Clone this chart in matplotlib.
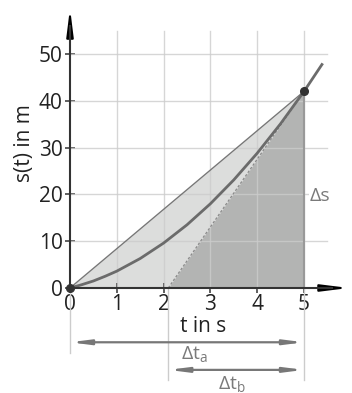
import matplotlib
matplotlib.use("Agg")
import matplotlib.pyplot as plt

plt.rcParams["font.family"] = ["Open Sans", "DejaVu Sans"]

# s(t) curve
t_curve = [0, 0.25, 0.5, 0.75, 1, 1.5, 2, 2.5, 3, 3.5, 4, 4.5, 5, 5.4]
s_curve = [0, 0.7, 1.5, 2.5, 3.6, 6.3, 9.6, 13.5, 18, 23.1, 28.8, 35.1, 42, 48.0]

# secant (from origin) and tangent at t = 5
secant_t = [0, 5]
secant_s = [0, 42]
tangent_t = [2.1, 5]
tangent_s = [0, 42]

x_ticks = [0, 1, 2, 3, 4, 5]
y_ticks = [0, 10, 20, 30, 40, 50]

DARK = "#333333"
CURVE = "#6b6b6b"
GRID = "#cccccc"
LABEL = "#7a7a7a"

fig = plt.figure(figsize=(3.52, 3.93), dpi=100)
ax = fig.add_axes([0, 0, 1, 1])
ax.set_xlim(-1.496, 6.026)
ax.set_ylim(-22.44, 61.54)
ax.set_facecolor("none")

# fills
ax.fill_between(secant_t, 0, secant_s, color="#dcdddc", lw=0, zorder=1)
ax.fill_between(tangent_t, 0, tangent_s, color="#b3b4b3", lw=0, zorder=2)

# grid
for xv in x_ticks[1:]:
    ax.plot([xv, xv], [0, 55], color=GRID, lw=1, zorder=3, alpha=0.8)
for yv in y_ticks[1:]:
    ax.plot([0, 5.5], [yv, yv], color=GRID, lw=1, zorder=3, alpha=0.8)

# extension lines for the dimension arrows
ax.plot([0, 0], [0, -13.8], color=GRID, lw=1, zorder=3)
ax.plot([tangent_t[0]] * 2, [0, -19.7], color=GRID, lw=1, zorder=3)
ax.plot([5, 5], [0, -19.7], color=GRID, lw=1, zorder=3)

# right edge of the triangle
ax.plot([5, 5], [0, 42], color="#999999", lw=1.5, zorder=4)

# secant and tangent
ax.plot(secant_t, secant_s, color="#777777", lw=1, zorder=5)
ax.plot(tangent_t, tangent_s, color="#8a8a8a", lw=0.9, ls=(0, (2, 1.5)), zorder=5)

# curve
ax.plot(t_curve, s_curve, color=CURVE, lw=2, zorder=6, solid_capstyle="butt")
ax.plot([0, 5], [0, 42], ls="none", marker="o", ms=5.5, color=DARK, zorder=9)

# axes as spines
for side in ["top", "right"]:
    ax.spines[side].set_visible(False)
ax.spines["left"].set_position(("data", 0))
ax.spines["bottom"].set_position(("data", 0))
ax.spines["left"].set_bounds(0, 56)
ax.spines["bottom"].set_bounds(0, 5.6)
for side in ["left", "bottom"]:
    ax.spines[side].set_color(DARK)
    ax.spines[side].set_linewidth(1.5)
    ax.spines[side].set_zorder(8)

ax.set_xticks(x_ticks)
ax.set_yticks(y_ticks)
ax.tick_params(direction="inout", length=7.5, width=1.1, color=DARK,
               labelsize=15, labelcolor="#222222")
ax.tick_params(axis="x", pad=0.5)
ax.tick_params(axis="y", pad=1.5)

# arrow heads on the axes
ax.annotate("", xy=(0, 59.8), xytext=(0, 54), zorder=8,
            arrowprops=dict(arrowstyle="-|>,head_length=1.6,head_width=0.2",
                            mutation_scale=10, color="black", lw=1.5,
                            shrinkA=0, shrinkB=0))
ax.annotate("", xy=(5.96, 0), xytext=(5.4, 0), zorder=8,
            arrowprops=dict(arrowstyle="-|>,head_length=1.6,head_width=0.2",
                            mutation_scale=10, color="black", lw=1.5,
                            shrinkA=0, shrinkB=0))

# axis labels
ax.text(-0.98, 31, "s(t) in m", rotation=90, ha="center", va="center",
        fontsize=15, color="#222222")
ax.text(2.84, -8.2, "t in s", ha="center", va="center", fontsize=15,
        color="#222222")

# delta s
ax.text(5.12, 19.6, "Δs", ha="left", va="center", fontsize=14, color=LABEL,
        zorder=7, bbox=dict(facecolor="white", edgecolor="none", pad=0.5))

# dimension arrows
dim_style = "<|-|>,head_length=1.1,head_width=0.14"
ax.annotate("", xy=(0, -11.6), xytext=(5, -11.6),
            arrowprops=dict(arrowstyle=dim_style, mutation_scale=10,
                            color="#777777", lw=1.6, shrinkA=0, shrinkB=0))
ax.annotate("", xy=(tangent_t[0], -17.5), xytext=(5, -17.5),
            arrowprops=dict(arrowstyle=dim_style, mutation_scale=10,
                            color="#777777", lw=1.6, shrinkA=0, shrinkB=0))
ax.text(2.65, -14.3, r"Δt$_\mathregular{a}$", ha="center", va="center",
        fontsize=14, color=LABEL)
ax.text(3.47, -20.6, r"Δt$_\mathregular{b}$", ha="center", va="center",
        fontsize=14, color=LABEL)

fig.savefig("out.png", dpi=100)
